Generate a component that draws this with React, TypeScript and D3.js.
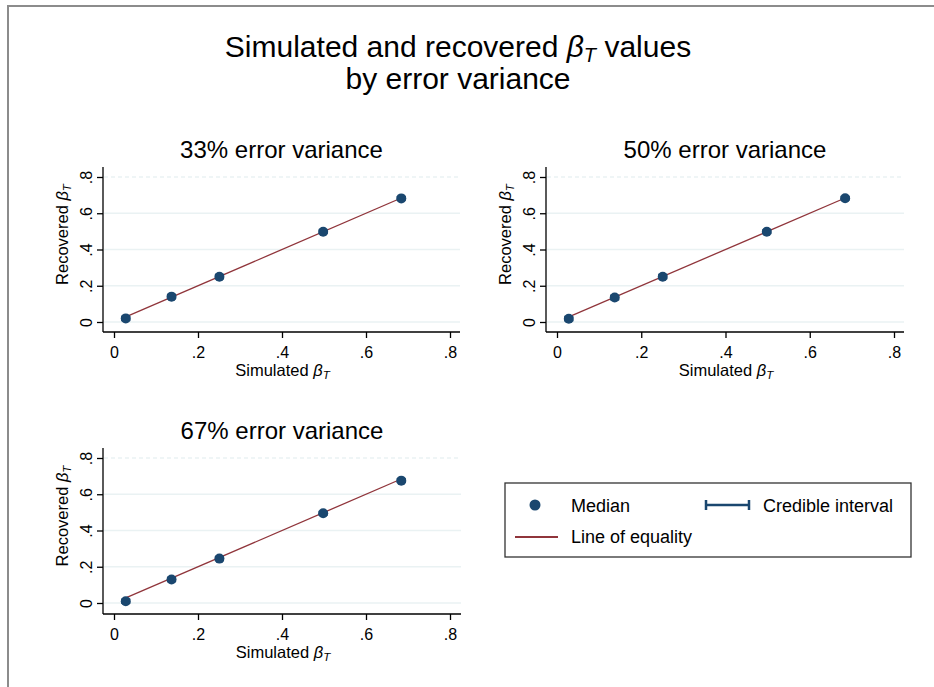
import React, { useRef, useEffect } from 'react';
import * as d3 from 'd3';

// simulated true effects (x) and recovered medians / credible intervals (y)
const simulated = [0.028, 0.137, 0.251, 0.498, 0.684];
const panelTitles = ['33% error variance', '50% error variance', '67% error variance'];
const medians = [
  [0.02, 0.14, 0.25, 0.498, 0.682],
  [0.018, 0.135, 0.25, 0.498, 0.683],
  [0.01, 0.13, 0.245, 0.495, 0.675],
];
const ciLower = [
  [0.01, 0.13, 0.24, 0.49, 0.675],
  [0.008, 0.124, 0.24, 0.49, 0.675],
  [0.0, 0.12, 0.235, 0.487, 0.667],
];
const ciUpper = [
  [0.03, 0.15, 0.26, 0.506, 0.69],
  [0.028, 0.146, 0.26, 0.506, 0.691],
  [0.02, 0.14, 0.255, 0.503, 0.683],
];
const ticks = [0, 0.2, 0.4, 0.6, 0.8];
const tickLabels = ['0', '.2', '.4', '.6', '.8'];

const BLUE = '#1a476f';
const RED = '#90353b';
const GRID = '#eaf2f3';
const FONT = 'Arial, "Liberation Sans", sans-serif';

const App = () => {
  const chart = useRef(null);

  useEffect(() => {
    const root = d3.select(chart.current);
    root.selectAll('*').remove();

    const svg = root
      .append('svg')
      .attr('width', 934)
      .attr('height', 687)
      .style('position', 'absolute')
      .style('left', 0)
      .style('top', 0)
      .style('background', '#fff')
      .style('font-family', FONT);

    // outer graph frame
    svg
      .append('rect')
      .attr('x', 8)
      .attr('y', 6)
      .attr('width', 1000)
      .attr('height', 800)
      .attr('fill', 'none')
      .attr('stroke', '#8c8c8c')
      .attr('stroke-width', 2);

    // main title
    const title = svg
      .append('text')
      .attr('x', 458)
      .attr('y', 57)
      .attr('text-anchor', 'middle')
      .attr('font-size', 30)
      .attr('fill', '#000');
    title.append('tspan').text('Simulated and recovered ');
    title.append('tspan').attr('font-style', 'italic').text('β');
    title
      .append('tspan')
      .attr('font-style', 'italic')
      .attr('font-size', 20)
      .attr('dy', 5)
      .text('T');
    title.append('tspan').attr('dy', -5).text(' values');
    svg
      .append('text')
      .attr('x', 458)
      .attr('y', 89)
      .attr('text-anchor', 'middle')
      .attr('font-size', 30)
      .text('by error variance');

    // beta_T label helper
    const betaLabel = (sel, prefix, size) => {
      sel.append('tspan').text(prefix);
      sel.append('tspan').attr('font-style', 'italic').text('β');
      sel
        .append('tspan')
        .attr('font-style', 'italic')
        .attr('font-size', size * 0.7)
        .attr('dy', 3)
        .text('T');
    };

    // panel geometry: plot region edges and tick anchors
    const panels = [
      { left: 103, right: 460, top: 167, axisY: 332, x0: 114, x8: 450, y0: 322, y8: 177 },
      { left: 546, right: 904, top: 167, axisY: 332, x0: 557, x8: 894, y0: 322, y8: 177 },
      { left: 103, right: 461, top: 448, axisY: 614, x0: 114, x8: 450, y0: 603, y8: 458 },
    ];

    panels.forEach((p, i) => {
      const g = svg.append('g');
      const x = d3.scaleLinear().domain([0, 0.8]).range([p.x0, p.x8]);
      const y = d3.scaleLinear().domain([0, 0.8]).range([p.y0, p.y8]);

      // gridlines
      g.selectAll('.grid')
        .data(ticks)
        .enter()
        .append('line')
        .attr('x1', p.left + 1)
        .attr('x2', p.right)
        .attr('y1', (d) => y(d))
        .attr('y2', (d) => y(d))
        .attr('stroke', GRID)
        .attr('stroke-width', 1.5)
        .attr('stroke-dasharray', (d) => (d === 0.8 ? '4,3' : null));

      // y axis
      const yAxis = d3
        .axisLeft(y)
        .tickValues(ticks)
        .tickFormat((d, k) => tickLabels[k])
        .tickSize(6)
        .tickSizeOuter(0);
      const ya = g.append('g').attr('transform', `translate(${p.left},0)`).call(yAxis);
      ya.select('.domain').remove();
      ya.append('line')
        .attr('y1', p.top)
        .attr('y2', p.axisY)
        .attr('stroke', '#000')
        .attr('stroke-width', 1.3);
      ya.selectAll('.tick line').attr('stroke', '#000').attr('stroke-width', 1.3);
      ya.selectAll('.tick text')
        .attr('font-size', 16)
        .attr('font-family', FONT)
        .attr('fill', '#000')
        .attr('transform', 'rotate(-90)')
        .attr('x', 0)
        .attr('y', -11)
        .attr('dy', 0)
        .attr('text-anchor', 'middle');

      // x axis
      const xAxis = d3
        .axisBottom(x)
        .tickValues(ticks)
        .tickFormat((d, k) => tickLabels[k])
        .tickSize(6)
        .tickSizeOuter(0);
      const xa = g.append('g').attr('transform', `translate(0,${p.axisY})`).call(xAxis);
      xa.select('.domain').remove();
      xa.append('line')
        .attr('x1', p.left)
        .attr('x2', p.right)
        .attr('stroke', '#000')
        .attr('stroke-width', 1.3);
      xa.selectAll('.tick line').attr('stroke', '#000').attr('stroke-width', 1.3);
      xa.selectAll('.tick text')
        .attr('font-size', 16)
        .attr('font-family', FONT)
        .attr('fill', '#000')
        .attr('y', 26)
        .attr('dy', 0);

      // axis titles
      const xt = g
        .append('text')
        .attr('x', (p.left + p.right) / 2 + 1)
        .attr('y', p.axisY + 44)
        .attr('text-anchor', 'middle')
        .attr('font-size', 16.5);
      betaLabel(xt, 'Simulated ', 16.5);
      const yt = g
        .append('text')
        .attr('transform', `translate(${p.left - 35},${(p.top + p.axisY) / 2 - 15}) rotate(-90)`)
        .attr('text-anchor', 'middle')
        .attr('font-size', 16.5);
      betaLabel(yt, 'Recovered ', 16.5);

      // panel title
      g.append('text')
        .attr('x', (p.left + p.right) / 2)
        .attr('y', p.top - 9)
        .attr('text-anchor', 'middle')
        .attr('font-size', 24)
        .text(panelTitles[i]);

      // line of equality
      const ext = d3.extent(simulated);
      g.append('line')
        .attr('x1', x(ext[0]))
        .attr('y1', y(ext[0]))
        .attr('x2', x(ext[1]))
        .attr('y2', y(ext[1]))
        .attr('stroke', RED)
        .attr('stroke-width', 1.3);

      // credible intervals
      const ci = g.selectAll('.ci').data(simulated).enter().append('g');
      ci.append('line')
        .attr('x1', (d) => x(d))
        .attr('x2', (d) => x(d))
        .attr('y1', (d, k) => y(ciLower[i][k]))
        .attr('y2', (d, k) => y(ciUpper[i][k]))
        .attr('stroke', BLUE)
        .attr('stroke-width', 2);
      [ciLower[i], ciUpper[i]].forEach((arr) => {
        ci.append('line')
          .attr('x1', (d) => x(d) - 4.5)
          .attr('x2', (d) => x(d) + 4.5)
          .attr('y1', (d, k) => y(arr[k]))
          .attr('y2', (d, k) => y(arr[k]))
          .attr('stroke', BLUE)
          .attr('stroke-width', 2);
      });

      // medians
      g.selectAll('.med')
        .data(simulated)
        .enter()
        .append('circle')
        .attr('cx', (d) => x(d))
        .attr('cy', (d, k) => y(medians[i][k]))
        .attr('r', 5)
        .attr('fill', BLUE);
    });

    // legend
    const lg = svg.append('g');
    lg.append('rect')
      .attr('x', 505)
      .attr('y', 483)
      .attr('width', 406)
      .attr('height', 74)
      .attr('fill', '#fff')
      .attr('stroke', '#333')
      .attr('stroke-width', 1.3);
    lg.append('circle').attr('cx', 535).attr('cy', 505).attr('r', 5.5).attr('fill', BLUE);
    lg.append('text').attr('x', 571).attr('y', 512).attr('font-size', 18).text('Median');
    lg.append('line')
      .attr('x1', 706)
      .attr('x2', 749)
      .attr('y1', 505)
      .attr('y2', 505)
      .attr('stroke', BLUE)
      .attr('stroke-width', 2.5);
    [706, 749].forEach((cx) => {
      lg.append('line')
        .attr('x1', cx)
        .attr('x2', cx)
        .attr('y1', 500)
        .attr('y2', 510)
        .attr('stroke', BLUE)
        .attr('stroke-width', 2.5);
    });
    lg.append('text').attr('x', 763).attr('y', 512).attr('font-size', 18).text('Credible interval');
    lg.append('line')
      .attr('x1', 515)
      .attr('x2', 558)
      .attr('y1', 537)
      .attr('y2', 537)
      .attr('stroke', RED)
      .attr('stroke-width', 2);
    lg.append('text').attr('x', 571).attr('y', 543).attr('font-size', 18).text('Line of equality');
  }, []);

  return <div ref={chart}></div>;
};

export default App;
